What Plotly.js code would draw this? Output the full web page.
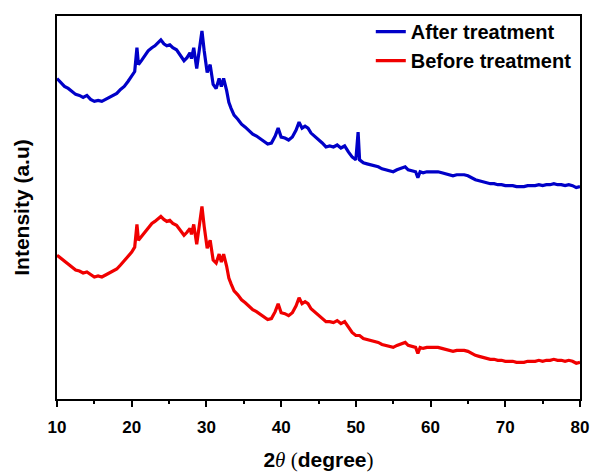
<!DOCTYPE html>
<html>
<head>
<meta charset="utf-8">
<script src="https://cdn.plot.ly/plotly-3.0.1.min.js"></script>
<style>html,body{margin:0;padding:0;background:#fff;}#chart{width:592px;height:474px;}</style>
</head>
<body>
<div id="chart"></div>
<script>
// 2-theta positions (degrees)
const thetaAfter = [10.0,10.5,11.0,11.5,12.0,12.5,13.0,13.5,14.0,14.5,15.0,15.5,16.0,16.5,17.0,17.5,18.0,18.5,19.0,19.5,20.0,20.4,20.7,20.9,21.3,21.7,22.2,22.7,23.1,23.5,23.9,24.3,24.7,25.1,25.5,26.0,26.5,27.0,27.4,27.8,28.0,28.3,28.7,29.0,29.4,29.7,30.1,30.5,30.9,31.3,31.7,32.0,32.3,32.7,33.0,33.3,33.7,34.2,34.7,35.2,35.7,36.2,36.7,37.2,37.7,38.2,38.7,39.2,39.6,40.0,40.5,41.0,41.5,42.0,42.4,42.8,43.2,43.6,44.0,44.5,45.0,45.5,46.0,46.5,47.0,47.5,48.0,48.5,49.0,49.5,50.0,50.3,50.5,51.0,51.5,52.0,52.5,53.0,53.5,54.0,54.5,55.0,55.5,56.0,56.6,57.0,57.5,58.0,58.3,58.6,59.0,59.5,60.0,60.5,61.0,61.5,62.0,62.5,63.0,63.5,64.0,64.5,65.0,65.5,66.0,66.5,67.0,67.5,68.0,68.5,69.0,69.5,70.0,70.5,71.0,71.5,72.0,72.5,73.0,73.5,74.0,74.5,75.0,75.5,76.0,76.5,77.0,77.5,78.0,78.5,79.0,79.5,80.0];
const intensityAfter = [323,319,315,313,310,307,306,304,306,302,300,301,300,302,304,306,308,312,315,320,325,330,354,337,341,345,351,354,356,359,362,358,356,357,354,352,346,341,344,349,343,354,333,349,371,351,329,337,317,313,323,315,323,311,299,293,286,282,277,274,270,267,265,262,260,257,258,265,273,264,263,261,264,271,279,273,275,273,268,265,261,258,254,255,254,256,253,255,249,244,241,269,241,238,237,236,235,234,232,231,230,229,231,232,234,231,230,229,223,229,228,229,229,229,229,228,227,226,225,226,226,226,225,223,221,220,219,218,217,217,216,216,215,215,215,214,214,214,215,215,215,216,215,216,216,217,216,216,215,216,215,213,214];

const thetaBefore = [10.0,10.5,11.0,11.5,12.0,12.5,13.0,13.5,14.0,14.5,15.0,15.5,16.0,16.5,17.0,17.5,18.0,18.5,19.0,19.5,20.0,20.4,20.7,20.9,21.3,21.7,22.2,22.7,23.1,23.5,23.9,24.3,24.7,25.1,25.5,26.0,26.5,27.0,27.4,27.8,28.0,28.3,28.7,29.0,29.4,29.7,30.1,30.5,30.9,31.3,31.7,32.0,32.3,32.7,33.0,33.3,33.7,34.2,34.7,35.2,35.7,36.2,36.7,37.2,37.7,38.2,38.7,39.2,39.6,40.0,40.5,41.0,41.5,42.0,42.4,42.8,43.2,43.6,44.0,44.5,45.0,45.5,46.0,46.5,47.0,47.5,48.0,48.5,49.0,49.5,50.0,50.5,51.0,51.5,52.0,52.5,53.0,53.5,54.0,54.5,55.0,55.5,56.0,56.6,57.0,57.5,58.0,58.3,58.6,59.0,59.5,60.0,60.5,61.0,61.5,62.0,62.5,63.0,63.5,64.0,64.5,65.0,65.5,66.0,66.5,67.0,67.5,68.0,68.5,69.0,69.5,70.0,70.5,71.0,71.5,72.0,72.5,73.0,73.5,74.0,74.5,75.0,75.5,76.0,76.5,77.0,77.5,78.0,78.5,79.0,79.5,80.0];
const intensityBefore = [145,142,138,136,133,130,129,127,128,125,123,124,123,125,127,129,131,135,139,143,148,153,176,160,164,168,173,177,179,182,184,181,179,180,177,175,170,165,168,172,166,176,156,172,194,174,152,160,140,137,146,138,146,134,122,116,109,105,100,97,93,90,88,85,83,80,81,88,96,87,86,84,87,94,102,96,98,96,91,88,84,81,78,78,77,79,76,78,72,67,64,64,61,60,59,58,57,55,54,53,52,54,55,57,54,53,52,46,52,51,52,52,52,52,51,50,49,48,49,49,49,48,46,44,43,42,41,40,40,39,39,38,38,38,37,37,37,38,38,38,39,38,39,39,40,39,39,38,39,38,36,37];

const seriesNames = ['After treatment', 'Before treatment'];
const xTickVals = [10,20,30,40,50,60,70,80];

const FONT = 'Liberation Sans, Arial, sans-serif';
const SERIF = "'Liberation Serif', 'Times New Roman', serif";

const traces = [
  {x: thetaAfter, y: intensityAfter, name: seriesNames[0], type: 'scatter', mode: 'lines',
   line: {color: '#0000C8', width: 3.2}},
  {x: thetaBefore, y: intensityBefore, name: seriesNames[1], type: 'scatter', mode: 'lines',
   line: {color: '#F00000', width: 3.2}}
];

const layout = {
  width: 592, height: 474,
  margin: {l: 57, r: 12, t: 13, b: 75},
  paper_bgcolor: '#fff', plot_bgcolor: '#fff',
  font: {family: FONT, color: '#000'},
  showlegend: true,
  legend: {x: 0.6, y: 1.01, xanchor: 'left', yanchor: 'top', bgcolor: 'rgba(0,0,0,0)',
           font: {family: FONT, size: 20, weight: 'bold', color: '#000'}, tracegroupgap: 0},
  xaxis: {
    range: [10, 80], tickvals: xTickVals, ticktext: xTickVals.map(String),
    ticks: 'outside', ticklen: 6, tickwidth: 2, tickcolor: '#000',
    minor: {dtick: 5, ticks: 'outside', ticklen: 3, tickwidth: 2, tickcolor: '#000'},
    showline: true, linewidth: 2, linecolor: '#000', mirror: true,
    showgrid: false, zeroline: false, ticklabelstandoff: 6,
    tickfont: {family: FONT, size: 17, weight: 'bold', color: '#000'},
    title: {text: '<b>2</b><span style="font-family:' + SERIF + '"><i>θ</i> (</span><b>degree</b><span style="font-family:' + SERIF + '">)</span>',
            font: {family: FONT, size: 21, color: '#000'}, standoff: 16}
  },
  yaxis: {
    range: [0, 386], showticklabels: false, ticks: '',
    showline: true, linewidth: 2, linecolor: '#000', mirror: true,
    showgrid: false, zeroline: false,
    title: {text: '<b>Intensity (a.u)</b>', font: {family: FONT, size: 21, color: '#000'}, standoff: 20}
  }
};

Plotly.newPlot('chart', traces, layout, {displayModeBar: false, staticPlot: true});
</script>
</body>
</html>
